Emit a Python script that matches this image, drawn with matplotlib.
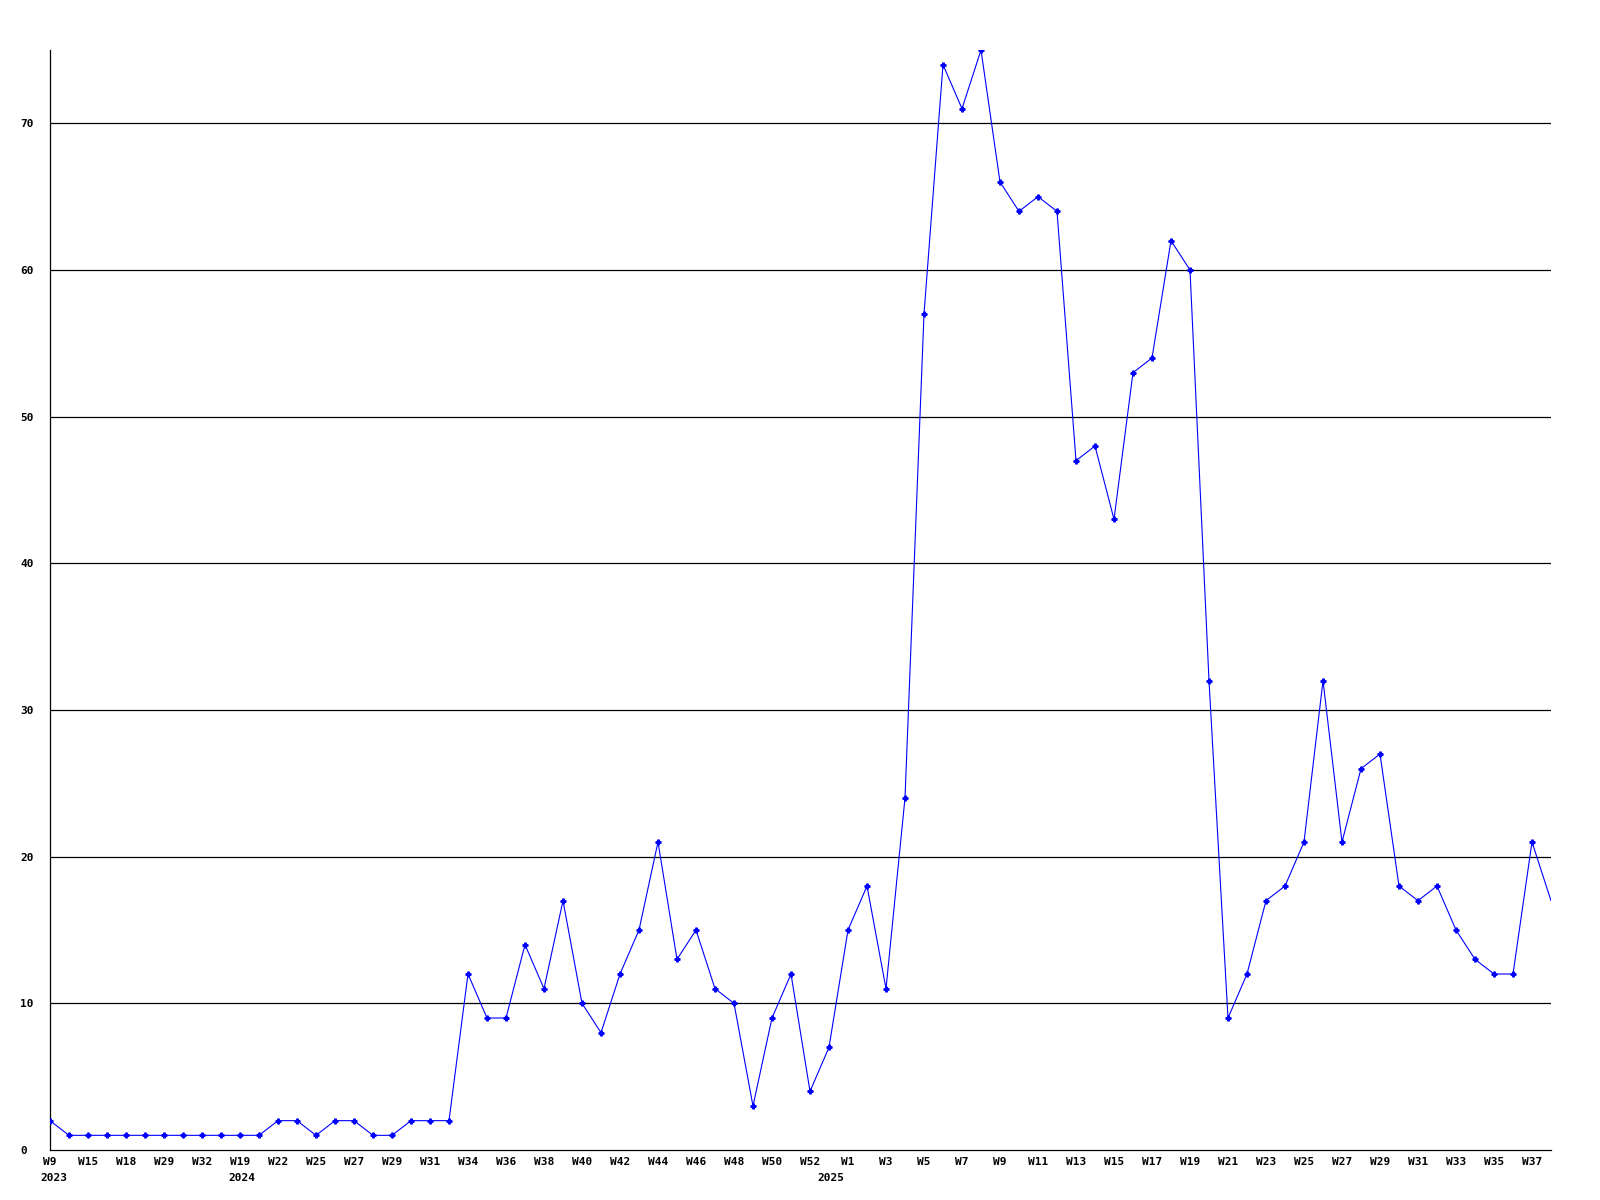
import matplotlib
matplotlib.use("Agg")
import matplotlib.pyplot as plt
import matplotlib.transforms as mtransforms

# weekly values, W9 2023 .. W38 2025
values = [2, 1, 1, 1, 1, 1, 1, 1, 1, 1, 1, 1, 2, 2, 1, 2, 2, 1, 1, 2,
          2, 2, 12, 9, 9, 14, 11, 17, 10, 8, 12, 15, 21, 13, 15, 11, 10, 3, 9, 12,
          4, 7, 15, 18, 11, 24, 57, 74, 71, 75, 66, 64, 65, 64, 47, 48, 43, 53, 54, 62,
          60, 32, 9, 12, 17, 18, 21, 32, 21, 26, 27, 18, 17, 18, 15, 13, 12, 12, 21, 17]

# label shown under every second point
week_labels = ["W9", "W15", "W18", "W29", "W32", "W19", "W22", "W25", "W27", "W29",
               "W31", "W34", "W36", "W38", "W40", "W42", "W44", "W46", "W48", "W50",
               "W52", "W1", "W3", "W5", "W7", "W9", "W11", "W13", "W15", "W17",
               "W19", "W21", "W23", "W25", "W27", "W29", "W31", "W33", "W35", "W37"]

years = ["2023", "2024", "2025"]
year_pos = [-0.53, 9.37, 40.4]

y_ticks = [10, 20, 30, 40, 50, 60, 70]

fig = plt.figure(figsize=(16, 12), dpi=100)
ax = fig.add_axes([50 / 1600, 50 / 1200, 1501 / 1600, 1100 / 1200])

x = list(range(len(values)))

# сетка
for yv in y_ticks:
    ax.axhline(yv, color="black", linewidth=0.9, zorder=1)

ax.plot(x, values, color="#0000ff", linewidth=0.8, marker="P", markersize=3.5,
        markevery=list(range(len(values) - 1)), zorder=3)

ax.set_xlim(0, len(values) - 1)
ax.set_ylim(0, 75)

font = dict(family="DejaVu Sans Mono", weight="bold", size=8)

ax.set_xticks(x[::2])
ax.set_xticklabels(week_labels, fontdict=font)
ax.set_yticks([0] + y_ticks)
ax.set_yticklabels([str(v) for v in [0] + y_ticks], fontdict=font, ha="left")
ax.tick_params(axis="x", length=0, pad=5)
ax.tick_params(axis="y", length=0, pad=21.6)

trans = mtransforms.blended_transform_factory(ax.transData, ax.transAxes)
for yr, xp in zip(years, year_pos):
    ax.text(xp, -0.0209, yr, transform=trans, ha="left", va="top", **font)

for side in ["top", "right"]:
    ax.spines[side].set_visible(False)
for side in ["left", "bottom"]:
    ax.spines[side].set_linewidth(0.9)
    ax.spines[side].set_color("black")

fig.savefig("out.png", dpi=100)
